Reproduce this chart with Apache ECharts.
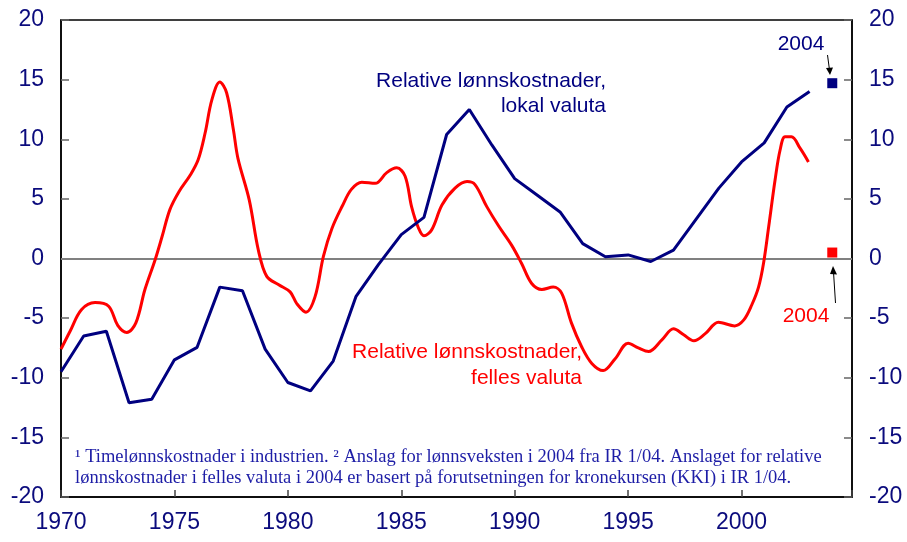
<!DOCTYPE html>
<html>
<head>
<meta charset="utf-8">
<script src="https://cdn.jsdelivr.net/npm/echarts@6/dist/echarts.min.js"></script>
<style>
  html, body { margin: 0; padding: 0; background: #fff; }
  #main { width: 907px; height: 542px; }
</style>
</head>
<body>
<div id="main"></div>
<script>
// Relative lønnskostnader, lokal valuta (årlig)
var blueYears = [1970,1971,1972,1973,1974,1975,1976,1977,1978,1979,1980,1981,1982,1983,1984,1985,1986,
    1987,1988,1989,1990,1991,1992,1993,1994,1995,1996,1997,1998,1999,2000,2001,2002,2003];
var blueValues = [-9.5,-6.5,-6.1,-12.1,-11.8,-8.5,-7.45,-2.4,-2.7,-7.6,-10.4,-11.1,-8.6,-3.2,-0.5,2.0,3.45,
    10.4,12.5,9.5,6.7,5.3,3.9,1.25,0.15,0.3,-0.25,0.7,3.3,5.9,8.1,9.7,12.7,14.0];

// Relative lønnskostnader, felles valuta (avlest fra kurven)
var redYears = [1970.0,1970.4,1970.9,1971.5,1972.1,1972.5,1972.9,1973.3,1973.7,1974.15,1974.45,1974.8,
    1975.2,1975.7,1976.05,1976.35,1976.65,1977.0,1977.3,1977.6,1977.8,1978.3,1978.7,1979.07,1979.6,
    1980.1,1980.4,1980.8,1981.2,1981.57,1981.94,1982.4,1982.8,1983.26,1983.85,1984.36,1984.8,1985.17,
    1985.46,1985.75,1986.0,1986.34,1986.8,1987.37,1987.9,1988.25,1988.77,1989.3,1989.87,1990.3,1990.75,
    1991.2,1991.7,1992.07,1992.5,1992.95,1993.4,1993.9,1994.43,1995.0,1995.45,1995.9,1996.5,1997.0,
    1997.45,1997.9,1998.4,1998.98,1999.7,2000.1,2000.45,2000.75,2000.97,2001.2,2001.48,2001.7,2001.92,
    2002.2,2002.58,2002.95];
var redValues = [-7.6,-6.1,-4.3,-3.7,-4.0,-5.6,-6.2,-5.4,-2.6,-0.1,1.8,4.1,
    5.6,7.0,8.3,10.5,13.3,14.8,13.9,10.8,8.4,4.9,0.7,-1.5,-2.2,
    -2.8,-3.8,-4.5,-3.2,0.2,2.5,4.4,5.8,6.4,6.3,7.2,7.6,6.9,
    4.3,2.6,1.9,2.4,4.5,5.9,6.45,6.2,4.35,2.7,1.1,-0.4,-2.1,
    -2.6,-2.4,-2.9,-5.4,-7.4,-8.8,-9.4,-8.4,-7.1,-7.5,-7.8,-6.8,-5.9,
    -6.4,-6.9,-6.3,-5.35,-5.65,-5.15,-3.9,-2.4,-0.4,2.7,6.6,9.1,10.2,
    10.2,9.25,8.1];

// anslag 2004
var forecastYear = 2004;
var blue2004 = 14.7;
var red2004 = 0.5;

var yTicks = { min: -20, max: 20, interval: 5 };
var xTicks = { min: 1970, max: 2004.87, interval: 5 };

var navy = '#000080';
var labelColor = '#0b0b7d';

function pairs(xs, ys) {
    return xs.map(function (x, i) { return [x, ys[i]]; });
}

var myChart = echarts.init(document.getElementById('main'));

function yAxisDef(pos) {
    return {
        type: 'value',
        position: pos,
        min: yTicks.min,
        max: yTicks.max,
        interval: yTicks.interval,
        axisLine: { show: true, lineStyle: { color: '#000', width: 1.5 } },
        axisTick: { show: true, inside: true, length: 8, lineStyle: { color: '#666', width: 1.5 } },
        axisLabel: { margin: 17, fontSize: 23, color: labelColor, fontFamily: 'Liberation Sans' },
        splitLine: { show: false }
    };
}

var option = {
    animation: false,
    grid: { left: 61, right: 55, top: 20, bottom: 45, show: true, borderColor: '#000', borderWidth: 1.5 },
    xAxis: {
        type: 'value',
        min: xTicks.min,
        max: xTicks.max,
        interval: xTicks.interval,
        axisLine: { show: true, onZero: false, lineStyle: { color: '#000', width: 1.5 } },
        axisTick: { show: true, inside: true, length: 7, lineStyle: { color: '#444', width: 1.5 } },
        axisLabel: {
            margin: 14, fontSize: 23, color: labelColor, fontFamily: 'Liberation Sans',
            formatter: function (v) { return v % 5 === 0 ? String(v) : ''; }
        },
        splitLine: { show: false }
    },
    yAxis: [yAxisDef('left'), yAxisDef('right')],
    series: [
        {
            name: 'felles valuta',
            type: 'line',
            data: pairs(redYears, redValues),
            smooth: 0.35,
            showSymbol: false,
            lineStyle: { color: '#ff0000', width: 3 },
            z: 3,
            markLine: {
                silent: true,
                symbol: 'none',
                label: { show: false },
                lineStyle: { color: '#808080', width: 2, type: 'solid' },
                data: [{ yAxis: 0 }],
                z: 1
            }
        },
        {
            name: 'lokal valuta',
            type: 'line',
            data: pairs(blueYears, blueValues),
            showSymbol: false,
            lineStyle: { color: navy, width: 3 },
            z: 4
        },
        {
            type: 'scatter',
            data: [[forecastYear, blue2004]],
            symbol: 'rect',
            symbolSize: 10,
            itemStyle: { color: navy, opacity: 1 },
            z: 5
        },
        {
            type: 'scatter',
            data: [[forecastYear, red2004]],
            symbol: 'rect',
            symbolSize: 10,
            itemStyle: { color: '#ff0000', opacity: 1 },
            z: 5
        }
    ],
    graphic: [
        { type: 'text', x: 606, y: 69, style: { text: 'Relative lønnskostnader,\nlokal valuta', fill: navy,
            font: '21px "Liberation Sans"', align: 'right', verticalAlign: 'top', lineHeight: 25 } },
        { type: 'text', x: 582, y: 339, style: { text: 'Relative lønnskostnader,\nfelles valuta', fill: '#ff0000',
            font: '21px "Liberation Sans"', align: 'right', verticalAlign: 'top', lineHeight: 26 } },
        { type: 'text', x: 801, y: 44, style: { text: '2004', fill: navy, font: '21px "Liberation Sans"',
            align: 'center', verticalAlign: 'middle' } },
        { type: 'text', x: 806, y: 316, style: { text: '2004', fill: '#ff0000', font: '21px "Liberation Sans"',
            align: 'center', verticalAlign: 'middle' } },
        // pil til blått punkt
        { type: 'line', shape: { x1: 827.5, y1: 55, x2: 829.5, y2: 70 }, style: { stroke: '#000', lineWidth: 1 } },
        { type: 'polygon', shape: { points: [[826, 68], [833, 67.5], [830, 75]] }, style: { fill: '#000' } },
        // pil til rødt punkt
        { type: 'line', shape: { x1: 835.5, y1: 303, x2: 833.5, y2: 272 }, style: { stroke: '#000', lineWidth: 1 } },
        { type: 'polygon', shape: { points: [[830, 274], [837, 274.5], [833, 266]] }, style: { fill: '#000' } },
        // fotnote
        { type: 'text', x: 75, y: 446, style: {
            text: '¹ Timelønnskostnader i industrien. ² Anslag for lønnsveksten i 2004 fra IR 1/04. Anslaget for relative\n' +
                  'lønnskostnader i felles valuta i 2004 er basert på forutsetningen for kronekursen (KKI) i IR 1/04.',
            fill: '#1d1da6', font: '18.5px "Liberation Serif"', lineHeight: 21.7, verticalAlign: 'top' } }
    ]
};
myChart.setOption(option);
</script>
</body>
</html>
